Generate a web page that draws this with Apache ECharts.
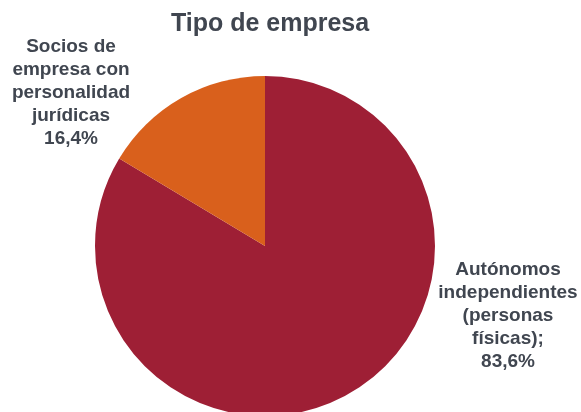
<!DOCTYPE html>
<html>
<head>
<meta charset="utf-8">
<script src="https://cdn.jsdelivr.net/npm/echarts@6/dist/echarts.min.js"></script>
<style>
  html, body { margin: 0; padding: 0; background: #fff; }
  #chart { width: 581px; height: 412px; }
</style>
</head>
<body>
<div id="chart"></div>
<script>
const categories = [
  "Autónomos\nindependientes\n(personas\nfísicas);",
  "Socios de\nempresa con\npersonalidad\njurídicas"
];
const values = [83.6, 16.4];
const colors = ["#9E1F35", "#D9601C"];

const chartDom = document.getElementById("chart");
const myChart = echarts.init(chartDom);

const option = {
  animation: false,
  title: {
    text: "Tipo de empresa",
    left: 265,
    top: 7,
    textAlign: "center",
    textStyle: {
      fontFamily: "Liberation Sans",
      fontSize: 25,
      fontWeight: "bold",
      color: "#404650",
    },
  },
  series: [
    {
      type: "pie",
      center: [265, 246],
      radius: 170,
      startAngle: 90,
      clockwise: true,
      data: categories.map((name, i) => ({
        name: name,
        value: values[i],
        itemStyle: { color: colors[i] },
      })),
      label: {
        show: true,
        position: "outside",
        formatter: (p) => p.name + "\n" + p.value.toFixed(1).replace(".", ",") + "%",
        fontFamily: "Liberation Sans",
        fontSize: 19,
        fontWeight: "bold",
        color: "#404650",
        lineHeight: 23,
        align: "center",
      },
      labelLine: { show: false },
      labelLayout: (params) => {
        // fixed label spots like the original
        if (params.dataIndex === 0) {
          return { x: 508, y: 316, align: "center", verticalAlign: "middle" };
        }
        return { x: 71, y: 93, align: "center", verticalAlign: "middle" };
      },
    },
  ],
};

myChart.setOption(option);
</script>
</body>
</html>
